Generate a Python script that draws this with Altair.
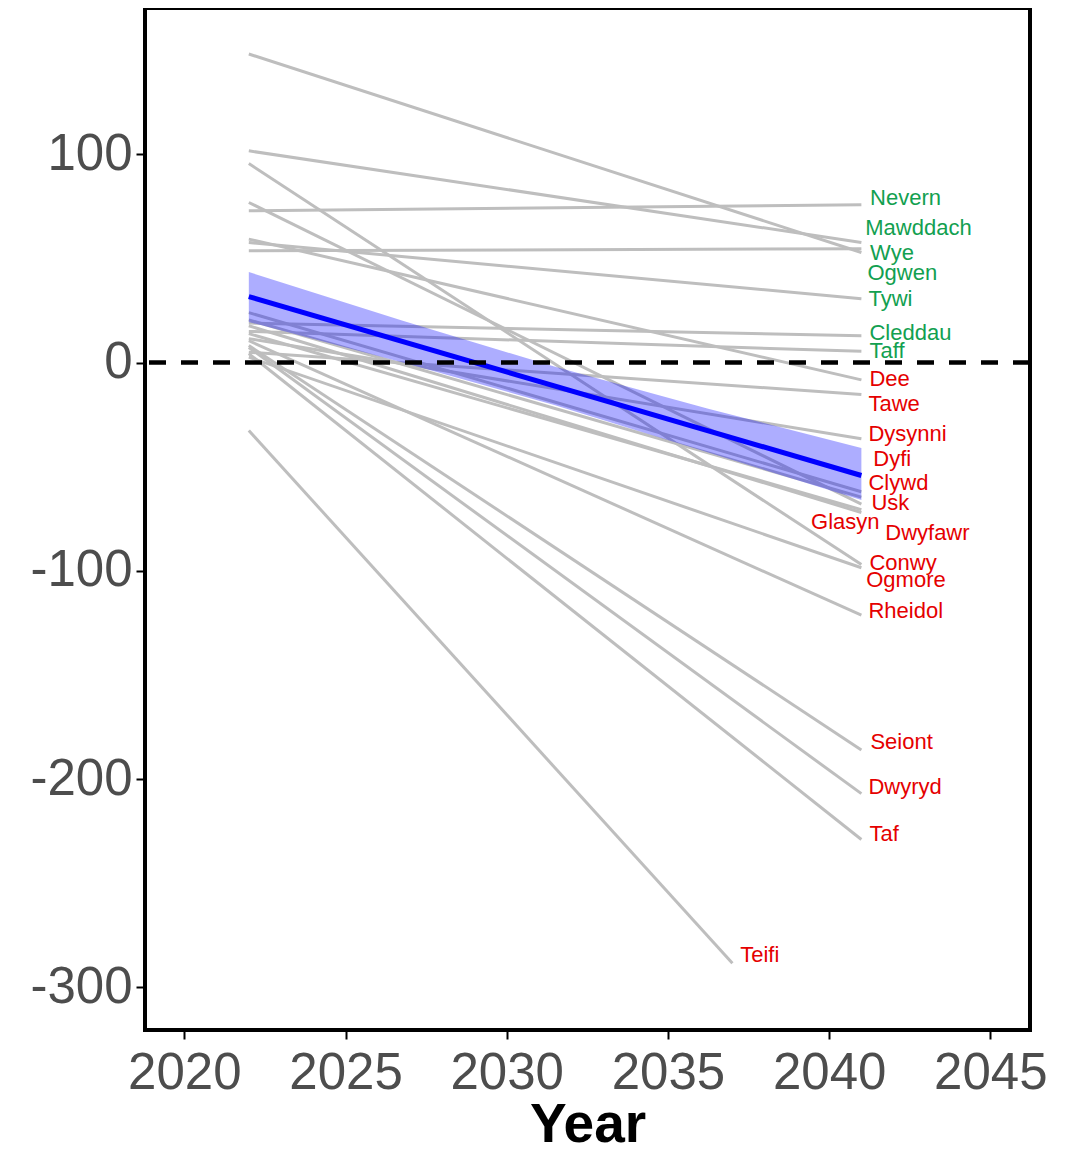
import altair as alt
import pandas as pd

# ---- data ----
rivers = ["Nevern", "Mawddach", "Wye", "Ogwen", "Tywi", "Cleddau", "Taff",
          "Dee", "Tawe", "Dysynni", "Dyfi", "Clywd", "Usk", "Glasyn", "Dwyfawr",
          "Conwy", "Ogmore", "Rheidol", "Seiont", "Dwyryd", "Taf", "Teifi"]
start_year = [2022] * 22
start_value = [72.9, 101.7, 53.7, 148.2, 57.7, 19.0, 15.0,
               59.3, 5.0, 11.5, 24.0, 20.5, 76.9, 13.9, 17.7,
               95.6, 2.6, 10.5, 8.2, 7.3, 4.3, -32.6]
end_year = [2041] * 21 + [2037]
end_value = [75.8, 57.7, 54.7, 52.9, 30.7, 12.9, 5.4,
             -8.3, -15.3, -36.6, -62.0, -64.6, -68.0, -70.6, -72.0,
             -97.0, -98.5, -121.3, -186.0, -207.0, -229.0, -288.5]
# label anchor (ggrepel-placed)
label_year = [2041.27, 2041.12, 2041.27, 2041.19, 2041.22, 2041.25, 2041.25,
              2041.25, 2041.22, 2041.22, 2041.37, 2041.22, 2041.31, 2039.44, 2041.74,
              2041.25, 2041.15, 2041.22, 2041.28, 2041.22, 2041.25, 2037.24]
label_value = [79.1, 64.7, 52.8, 43.2, 30.7, 14.4, 5.8,
               -7.7, -19.7, -34.1, -46.5, -57.6, -67.6, -76.7, -82.0,
               -96.4, -104.6, -119.4, -182.3, -203.8, -226.4, -284.4]

trend_year = [2022, 2041]
trend_value = [31.7, -54.2]
band_year = [2022, 2026.75, 2031.5, 2036.25, 2041]
band_low = [19.5, 0.2, -20.5, -43.2, -66.0]
band_high = [43.5, 20.2, -2.0, -22.2, -41.0]

x_ticks = [2020, 2025, 2030, 2035, 2040, 2045]
y_ticks = [-300, -200, -100, 0, 100]

# ---- tables ----
lines = pd.DataFrame({
    "river": rivers * 2,
    "year": start_year + end_year,
    "value": start_value + end_value,
})
labels = pd.DataFrame({
    "river": rivers,
    "lx": label_year,
    "ly": label_value,
    "status": ["gain" if v > 0 else "loss" for v in end_value],
})
trend = pd.DataFrame({"year": trend_year, "value": trend_value})
band = pd.DataFrame({"year": band_year, "lo": band_low, "hi": band_high})

FONT = "Liberation Sans"
xs = alt.Scale(domain=[2018.78, 2046.23], nice=False, zero=False)
ys = alt.Scale(domain=[-320.5, 170.3], nice=False, zero=False)

xaxis = alt.Axis(values=x_ticks, format="d", title="Year", grid=False, domain=False,
                 labelFontSize=51, labelColor="#4d4d4d", labelFont=FONT,
                 tickColor="black", tickWidth=2, tickSize=9, labelPadding=9,
                 titleFontSize=55, titleFontWeight="bold", titleColor="black",
                 titleFont=FONT, titlePadding=0)
yaxis = alt.Axis(values=y_ticks, title=None, grid=False, domain=False,
                 labelFontSize=51, labelColor="#4d4d4d", labelFont=FONT,
                 labelExpr="datum.value < 0 ? '-' + abs(datum.value) : '' + datum.value",
                 tickColor="black", tickWidth=2, tickSize=9, labelPadding=4)

gray = alt.Chart(lines).mark_line(color="#bebebe", strokeWidth=3).encode(
    x=alt.X("year:Q", scale=xs, axis=xaxis),
    y=alt.Y("value:Q", scale=ys, axis=yaxis),
    detail="river:N",
)
ribbon = alt.Chart(band).mark_area(color="#0000ff", opacity=0.32).encode(
    x=alt.X("year:Q", scale=xs),
    y=alt.Y("lo:Q", scale=ys),
    y2="hi:Q",
)
fit = alt.Chart(trend).mark_line(color="#0000ff", strokeWidth=5).encode(
    x=alt.X("year:Q", scale=xs),
    y=alt.Y("value:Q", scale=ys),
)
zero = alt.Chart(trend).mark_rule(color="black", strokeWidth=4, strokeDash=[17, 15]).encode(
    y=alt.datum(0, scale=ys),
)
text = alt.Chart(labels).mark_text(align="left", baseline="middle", fontSize=22, font=FONT).encode(
    x=alt.X("lx:Q", scale=xs),
    y=alt.Y("ly:Q", scale=ys),
    text="river:N",
    color=alt.Color("status:N", scale=alt.Scale(domain=["gain", "loss"], range=["#12a050", "#e50000"]), legend=None),
)

chart = alt.layer(gray, ribbon, fit, zero, text).properties(
    width=885, height=1022,
    background="white",
    autosize=alt.AutoSizeParams(type="none"),
    padding={"left": 137, "top": 0, "right": 30, "bottom": 116},
).configure_view(stroke="black", strokeWidth=4)

chart.save("out.html", embed_options={"renderer": "svg", "actions": False})
